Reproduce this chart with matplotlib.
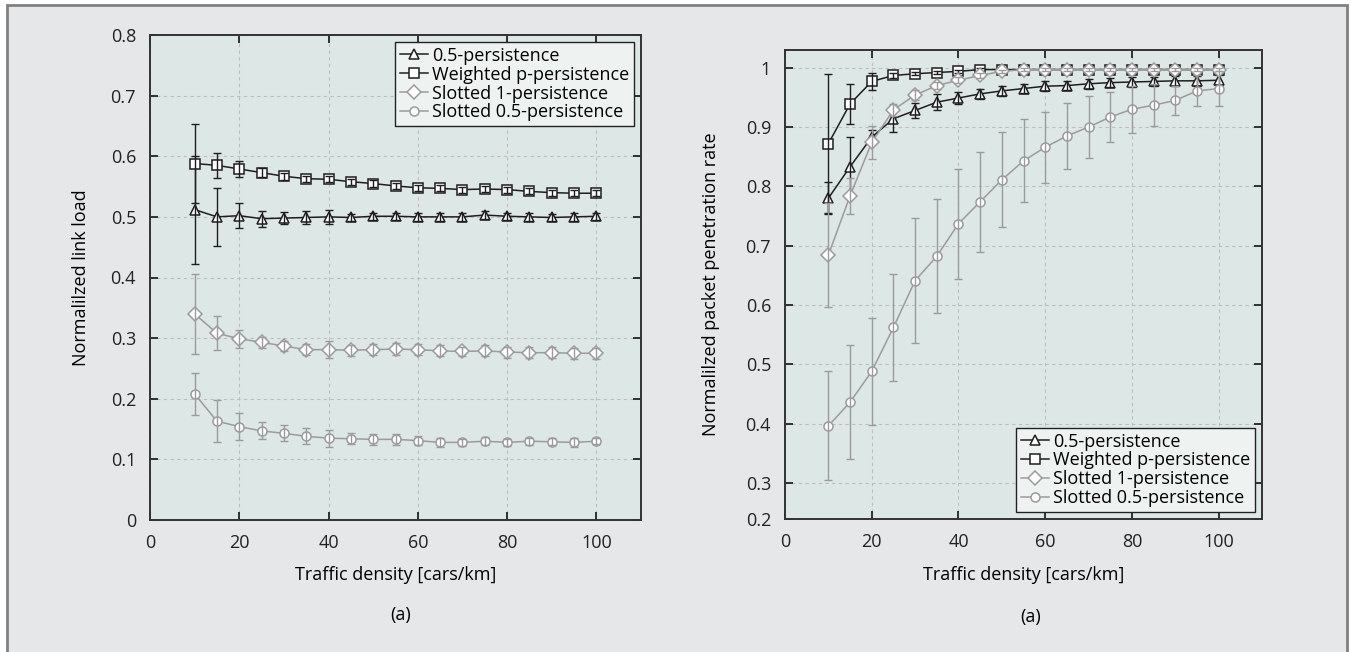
import numpy as np
import matplotlib
matplotlib.use("Agg")
import matplotlib.pyplot as plt
from matplotlib.patches import Rectangle

plt.rcParams['font.family'] = ['Open Sans', 'DejaVu Sans']

# traffic density, cars/km
density = [10, 15, 20, 25, 30, 35, 40, 45, 50, 55, 60, 65, 70, 75, 80, 85, 90, 95, 100]
names = ["0.5-persistence", "Weighted p-persistence",
         "Slotted 1-persistence", "Slotted 0.5-persistence"]

# left panel: normalized link load
load_p05 = [0.512, 0.500, 0.502, 0.497, 0.498, 0.499, 0.500, 0.499, 0.501, 0.501,
            0.500, 0.500, 0.500, 0.503, 0.501, 0.500, 0.499, 0.500, 0.501]
load_p05_err = [0.089, 0.048, 0.021, 0.013, 0.010, 0.010, 0.012, 0.006, 0.006, 0.006,
                0.006, 0.006, 0.006, 0.006, 0.006, 0.006, 0.006, 0.006, 0.006]
load_wp = [0.588, 0.585, 0.579, 0.573, 0.567, 0.563, 0.562, 0.558, 0.555, 0.551,
           0.548, 0.547, 0.545, 0.546, 0.545, 0.542, 0.540, 0.539, 0.539]
load_wp_err = [0.065, 0.021, 0.013, 0.007, 0.006, 0.005, 0.005, 0.005, 0.005, 0.005,
               0.005, 0.005, 0.005, 0.005, 0.005, 0.005, 0.005, 0.005, 0.005]
load_s1 = [0.340, 0.308, 0.299, 0.293, 0.287, 0.281, 0.281, 0.280, 0.281, 0.282,
           0.281, 0.279, 0.278, 0.279, 0.277, 0.276, 0.276, 0.275, 0.275]
load_s1_err = [0.066, 0.028, 0.015, 0.009, 0.009, 0.009, 0.014, 0.009, 0.009, 0.010,
               0.009, 0.009, 0.008, 0.009, 0.009, 0.009, 0.009, 0.009, 0.009]
load_s05 = [0.208, 0.163, 0.154, 0.147, 0.143, 0.138, 0.135, 0.134, 0.133, 0.133,
            0.131, 0.128, 0.128, 0.130, 0.128, 0.130, 0.129, 0.128, 0.130]
load_s05_err = [0.035, 0.035, 0.022, 0.014, 0.013, 0.013, 0.014, 0.009, 0.009, 0.009,
                0.007, 0.007, 0.006, 0.007, 0.006, 0.006, 0.006, 0.007, 0.005]

# right panel: normalized packet penetration rate
pen_p05 = [0.780, 0.833, 0.883, 0.914, 0.928, 0.942, 0.949, 0.956, 0.961, 0.965,
           0.969, 0.970, 0.973, 0.975, 0.976, 0.977, 0.978, 0.978, 0.979]
pen_p05_err = [0.027, 0.050, 0.012, 0.022, 0.013, 0.013, 0.010, 0.008, 0.008, 0.008,
               0.008, 0.008, 0.008, 0.008, 0.008, 0.008, 0.008, 0.008, 0.008]
pen_wp = [0.872, 0.939, 0.977, 0.987, 0.990, 0.992, 0.994, 0.997, 0.997, 0.997,
          0.997, 0.997, 0.997, 0.997, 0.997, 0.997, 0.997, 0.997, 0.997]
pen_wp_err = [0.117, 0.033, 0.015, 0.004, 0.003, 0.003, 0.003, 0.003, 0.003, 0.003,
              0.003, 0.003, 0.003, 0.003, 0.003, 0.003, 0.003, 0.003, 0.003]
pen_s1 = [0.684, 0.784, 0.874, 0.929, 0.954, 0.970, 0.979, 0.987, 0.994, 0.997,
          0.997, 0.997, 0.997, 0.997, 0.997, 0.997, 0.997, 0.997, 0.997]
pen_s1_err = [0.088, 0.030, 0.028, 0.010, 0.008, 0.006, 0.005, 0.004, 0.003, 0.003,
              0.003, 0.003, 0.003, 0.003, 0.003, 0.003, 0.003, 0.003, 0.003]
pen_s05 = [0.396, 0.436, 0.488, 0.562, 0.641, 0.682, 0.737, 0.774, 0.811, 0.843,
           0.866, 0.885, 0.900, 0.917, 0.930, 0.937, 0.945, 0.961, 0.965]
pen_s05_err = [0.092, 0.096, 0.090, 0.090, 0.106, 0.096, 0.093, 0.084, 0.080, 0.070,
               0.060, 0.055, 0.052, 0.043, 0.040, 0.035, 0.025, 0.026, 0.029]

dark = "#1e1e1e"
grey = "#9b9b9b"
styles = [("^", dark, 7.5), ("s", dark, 6.5), ("D", grey, 7.0), ("o", grey, 6.5)]

W, H = 1351, 652
fig = plt.figure(figsize=(W / 100, H / 100), dpi=100, facecolor="white")
fig.add_artist(Rectangle((7 / W, -0.05), 1340 / W, 1.05 - 5 / H,
                         transform=fig.transFigure, facecolor="#e6e7e9",
                         edgecolor="#808080", lw=2, zorder=0))

ax1 = fig.add_axes([150 / W, 132 / H, 491 / W, 485 / H])
ax2 = fig.add_axes([785 / W, 133 / H, 477 / W, 469 / H])

left_series = [(load_p05, load_p05_err), (load_wp, load_wp_err),
               (load_s1, load_s1_err), (load_s05, load_s05_err)]
right_series = [(pen_p05, pen_p05_err), (pen_wp, pen_wp_err),
                (pen_s1, pen_s1_err), (pen_s05, pen_s05_err)]

for ax, series in [(ax1, left_series), (ax2, right_series)]:
    ax.set_facecolor("#dde8e6")
    for i, ((vals, errs), name, (mk, col, ms)) in enumerate(zip(series, names, styles)):
        ax.plot(density, vals, color=col, lw=1.1, marker=mk, ms=ms,
                markerfacecolor="white", markeredgecolor=col, markeredgewidth=1.1,
                label=name, zorder=3 + i)
        ax.errorbar(density, vals, yerr=errs, fmt="none", ecolor=col,
                    elinewidth=1.0, capsize=3.0, capthick=1.0, zorder=3.5 + i)
    ax.set_xlim(0, 110)
    ax.set_xticks([0, 20, 40, 60, 80, 100])
    ax.grid(True, color="#bdbdbd", linestyle=(0, (3, 3)), lw=0.8)
    ax.set_axisbelow(True)
    ax.tick_params(direction="in", length=6, width=1.3, top=True, right=True,
                   labelsize=13, pad=10, colors="#222222")
    for sp in ax.spines.values():
        sp.set_color("#333333")
        sp.set_linewidth(1.4)
    ax.set_xlabel("Traffic density [cars/km]", fontsize=13)

ax1.set_ylim(0, 0.8)
ax1.set_yticks([0, 0.1, 0.2, 0.3, 0.4, 0.5, 0.6, 0.7, 0.8],
               ["0", "0.1", "0.2", "0.3", "0.4", "0.5", "0.6", "0.7", "0.8"])
ax1.set_ylabel("Normalilzed link load", fontsize=13)
ax1.xaxis.set_label_coords(0.5, -0.095)
ax1.yaxis.set_label_coords(-0.122, 0.5)

pen_bottom = 0.239
ax2.set_ylim(pen_bottom, 1.03)
ax2.set_yticks([pen_bottom, 0.3, 0.4, 0.5, 0.6, 0.7, 0.8, 0.9, 1.0],
               ["0.2", "0.3", "0.4", "0.5", "0.6", "0.7", "0.8", "0.9", "1"])
ax2.set_ylabel("Normalilzed packet penetration rate", fontsize=13)
ax2.xaxis.set_label_coords(0.5, -0.100)
ax2.yaxis.set_label_coords(-0.136, 0.5)

leg_kw = dict(fontsize=13, frameon=True, fancybox=False, framealpha=1,
              edgecolor="#222222", facecolor="#eef3f2", handlelength=1.6,
              handletextpad=0.2, labelspacing=0.05, borderpad=0.25,
              borderaxespad=0.4)
leg1 = ax1.legend(loc="upper right", **leg_kw)
leg2 = ax2.legend(loc="lower right", **leg_kw)
for leg in (leg1, leg2):
    leg.get_frame().set_linewidth(1.0)
    leg.set_zorder(20)

fig.text(401 / W, 1 - 615 / H, "(a)", ha="center", va="center", fontsize=13)
fig.text(1031 / W, 1 - 617 / H, "(a)", ha="center", va="center", fontsize=13)

fig.savefig("out.png", dpi=100, facecolor=fig.get_facecolor())
